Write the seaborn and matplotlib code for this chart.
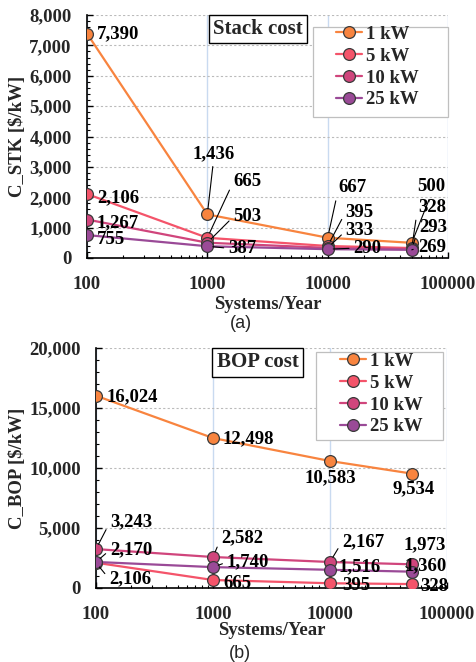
import numpy as np
import pandas as pd
import seaborn as sns
import matplotlib
matplotlib.use("Agg")
import matplotlib.pyplot as plt
from matplotlib.ticker import FixedLocator, MultipleLocator, StrMethodFormatter, LogLocator, NullFormatter
from matplotlib.patches import Rectangle

# ---------------- data ----------------
sizes = ["1 kW", "5 kW", "10 kW", "25 kW"]
systems = [100, 1000, 10000, 50000]

stack_1kw = [7390, 1436, 667, 500]
stack_5kw = [2106, 665, 395, 328]
stack_10kw = [1267, 503, 333, 293]
stack_25kw = [755, 387, 290, 269]

bop_1kw = [16024, 12498, 10583, 9534]
bop_5kw = [2106, 665, 395, 328]
bop_10kw = [3243, 2582, 2167, 1973]
bop_25kw = [2170, 1740, 1516, 1360]

x_tick_values = [100, 1000, 10000, 100000]
x_tick_labels = ["100", "1000", "10000", "100000"]

# ---------------- styling ----------------
palette = ["#F8843F", "#F4546A", "#D0457C", "#9A4A97"]

# label offsets (pixels) : (dx, dy, ha, leader)
stack_label_pos = {
    (0, 0): (10, 0, "left", False), (0, 1): (6, 61, "center", True),
    (0, 2): (11, 50, "left", True), (0, 3): (19, 56, "center", True),
    (1, 0): (10, -4, "left", False), (1, 1): (26, 56, "left", True),
    (1, 2): (18, 34, "left", True), (1, 3): (6, 41, "left", True),
    (2, 0): (10, -3, "left", False), (2, 1): (26, 26, "left", True),
    (2, 2): (18, 17, "left", True), (2, 3): (7, 22, "left", True),
    (3, 0): (10, -4, "left", False), (3, 1): (21, -2, "left", True),
    (3, 2): (26, 1, "left", True), (3, 3): (6, 2, "left", True),
}
bop_label_pos = {
    (0, 0): (11, -1, "left", False), (0, 1): (9, -1, "left", False),
    (0, 2): (0, -17, "center", False), (0, 3): (2, -15, "center", False),
    (1, 0): (13, -16, "left", True), (1, 1): (10, -3, "left", False),
    (1, 2): (12, -2, "left", False), (1, 3): (8, -2, "left", False),
    (2, 0): (14, 27, "left", True), (2, 1): (8, 19, "left", True),
    (2, 2): (12, 20, "left", True), (2, 3): (13, 20, "center", False),
    (3, 0): (14, 12, "left", True), (3, 1): (14, 5, "left", True),
    (3, 2): (8, 3, "left", False), (3, 3): (-7, 6, "left", True),
}

sns.set_style("ticks")
plt.rcParams["font.family"] = ["Liberation Serif", "DejaVu Serif"]
plt.rcParams["font.weight"] = "bold"
plt.rcParams["axes.labelweight"] = "bold"

FS = 13.5

fig = plt.figure(figsize=(4.76, 6.62), dpi=100)
ax1 = fig.add_axes([87 / 476, 1 - 258 / 662, (448 - 87) / 476, (258 - 15) / 662])
ax2 = fig.add_axes([96 / 476, 1 - 588 / 662, (447 - 96) / 476, (588 - 348) / 662])


def make_df(series):
    rows = []
    for name, vals in zip(sizes, series):
        for s, v in zip(systems, vals):
            rows.append({"Systems": s, "Cost": v, "Size": name})
    return pd.DataFrame(rows)


def draw(ax, series, ymax, ymajor, yminor, ylabel, title, title_xy, label_pos,
         legend_rect, legend_anchor, ylabel_x, xlabel_y):
    df = make_df(series)
    sns.lineplot(data=df, x="Systems", y="Cost", hue="Size", hue_order=sizes,
                 palette=palette, marker="o", markersize=8.5, linewidth=1.6,
                 markeredgecolor="#3a3a3a", markeredgewidth=0.9,
                 legend=False, ax=ax, zorder=3)
    ax.set_xscale("log")
    ax.set_xlim(100, 100000)
    ax.set_ylim(0, ymax)
    ax.xaxis.set_major_locator(FixedLocator(x_tick_values))
    ax.set_xticklabels(x_tick_labels)
    ax.xaxis.set_minor_locator(LogLocator(base=10, subs=np.arange(2, 10)))
    ax.xaxis.set_minor_formatter(NullFormatter())
    ax.yaxis.set_major_locator(MultipleLocator(ymajor))
    ax.yaxis.set_minor_locator(MultipleLocator(yminor))
    ax.yaxis.set_major_formatter(StrMethodFormatter("{x:,.0f}"))
    for lab in ax.get_xticklabels() + ax.get_yticklabels():
        lab.set_fontsize(FS)
        lab.set_fontweight("bold")
    ax.tick_params(axis="both", which="major", direction="in", length=4, width=1,
                   color="black")
    ax.tick_params(axis="both", which="minor", direction="in", length=2.5, width=0.8,
                   color="black")
    ax.tick_params(axis="x", which="major", pad=13)
    ax.tick_params(axis="y", which="major", pad=11)
    for side in ["top", "right"]:
        ax.spines[side].set_visible(False)
    for side in ["left", "bottom"]:
        ax.spines[side].set_color("black")
        ax.spines[side].set_linewidth(1.2)
    ax.grid(True, axis="y", which="major", linestyle=(0, (2, 2)), color="#BBBBBB",
            linewidth=0.8)
    ax.grid(True, axis="x", which="major", linestyle="-", color="#C9DAF0",
            linewidth=1.0)
    ax.set_axisbelow(True)
    ax.set_xlabel("Systems/Year", fontsize=FS, fontweight="bold")
    ax.set_ylabel(ylabel, fontsize=FS, fontweight="bold")
    ax.xaxis.set_label_coords(0.5, xlabel_y)
    ax.yaxis.set_label_coords(ylabel_x, 0.5)

    # data labels
    for i, vals in enumerate(series):
        for j, (s, v) in enumerate(zip(systems, vals)):
            dx, dy, ha, leader = label_pos[(i, j)]
            kw = {}
            if leader:
                rp = (0, 0.5) if ha == "left" else (0.5, 0)
                kw["arrowprops"] = dict(arrowstyle="-", color="black", lw=0.8,
                                        shrinkA=1, shrinkB=4, relpos=rp)
            ax.annotate(f"{v:,}", xy=(s, v), xytext=(dx, dy),
                        textcoords="offset pixels", ha=ha, va="center",
                        fontsize=FS, fontweight="bold", color="black",
                        zorder=6, **kw)

    # title box
    ax.text(title_xy[0], title_xy[1], title, transform=ax.transAxes,
            ha="center", va="center", fontsize=15, fontweight="bold",
            bbox=dict(boxstyle="square,pad=0.2", fc="white", ec="black", lw=1.0),
            zorder=7)

    # legend with manual frame
    x0, y0, x1, y1 = legend_rect
    ax.add_patch(Rectangle((x0, y0), x1 - x0, y1 - y0, transform=ax.transAxes,
                           facecolor="white", edgecolor="#BFBFBF", lw=0.9,
                           zorder=7, clip_on=False))
    handles = ax.get_lines()[:len(sizes)]
    leg = ax.legend(handles, sizes, loc="upper left", bbox_to_anchor=legend_anchor,
                    frameon=False, borderpad=0, borderaxespad=0,
                    handlelength=1.4, handletextpad=0.2, labelspacing=0.25,
                    prop={"weight": "bold", "size": FS})
    leg.set_zorder(8)


draw(ax1, [stack_1kw, stack_5kw, stack_10kw, stack_25kw], 8000, 1000, 200,
     r"C_STK [\$/kW]", "Stack cost", (0.474, 0.942), stack_label_pos,
     (0.626, 0.580, 1.0, 0.951), (0.69, 0.955), -0.170, -0.156)
draw(ax2, [bop_1kw, bop_5kw, bop_10kw, bop_25kw], 20000, 5000, 1000,
     r"C_BOP [\$/kW]", "BOP cost", (0.46, 0.94), bop_label_pos,
     (0.627, 0.617, 0.989, 0.983), (0.695, 0.98), -0.200, -0.142)

fig.text(241 / 476, 1 - 323 / 662, "(a)", ha="center", va="center", fontsize=13,
         fontweight="normal", family=["Liberation Sans", "DejaVu Sans"])
fig.text(240 / 476, 1 - 653 / 662, "(b)", ha="center", va="center", fontsize=13,
         fontweight="normal", family=["Liberation Sans", "DejaVu Sans"])

fig.savefig("out.png", dpi=100)
